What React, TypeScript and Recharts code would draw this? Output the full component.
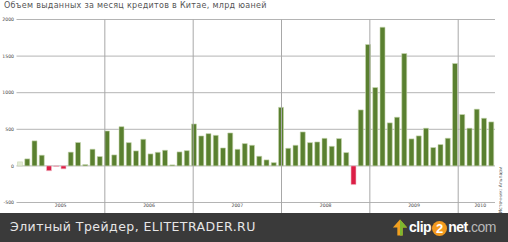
import React from "react";
import {
  Bar,
  BarChart,
  CartesianGrid,
  Cell,
  ReferenceLine,
  XAxis,
  YAxis,
} from "recharts";

// years shown on the x axis and how many months each one has
const years = ["2005", "2006", "2007", "2008", "2009", "2010"];
const monthsPerYear = [12, 12, 12, 12, 12, 6];

// new loans per month, bn yuan
const loans2005 = [55, 96, 342, 146, -66, -8, -40, 188, 320, 18, 228, 128];
const loans2006 = [477, 150, 536, 318, 205, 364, 164, 186, 214, 14, 191, 209];
const loans2007 = [573, 409, 441, 418, 245, 450, 227, 305, 282, 132, 82, 45];
const loans2008 = [800, 241, 282, 464, 318, 327, 377, 268, 373, 182, -255, 765];
const loans2009 = [1658, 1071, 1895, 588, 665, 1535, 369, 410, 515, 251, 292, 378];
const loans2010 = [1399, 702, 515, 775, 651, 601];

const yTicks = [-500, 0, 500, 1000, 1500, 2000];

const GREEN = "#5a8030";
const PALE = "#e3ebd6";
const RED = "#dc1e46";

const perYear = [loans2005, loans2006, loans2007, loans2008, loans2009, loans2010];

const data = perYear.flatMap((vals, yi) =>
  vals.map((v, mi) => ({ key: `${years[yi]}-${mi + 1}`, value: v }))
);

// year boundaries (in months) and centers on the numeric helper axis
const bounds: number[] = [];
const centers: number[] = [];
let acc = 0;
monthsPerYear.forEach((n) => {
  centers.push(acc + n / 2);
  acc += n;
  bounds.push(acc);
});
const totalMonths = acc;

const tickStyle = { fontSize: 4.6, fill: "#444", fontFamily: "DejaVu Sans" };

export default function App() {
  return (
    <div
      style={{
        position: "absolute",
        left: 0,
        top: 0,
        width: 508,
        height: 242,
        background: "#fff",
        overflow: "hidden",
        fontFamily: "DejaVu Sans",
      }}
    >
      <div
        style={{
          position: "absolute",
          left: 4,
          top: 1,
          fontSize: 8,
          color: "#555",
          letterSpacing: 0.3,
          whiteSpace: "nowrap",
        }}
      >
        Объем выданных за месяц кредитов в Китае, млрд юаней
      </div>

      <div style={{ position: "absolute", left: 0, top: 0 }}>
        <BarChart
          width={508}
          height={213}
          data={data}
          margin={{ top: 19.5, right: 13, left: 0, bottom: 0 }}
          barCategoryGap="14%"
        >
          <CartesianGrid vertical={false} stroke="#b4b4b4" xAxisId="yr" />
          <XAxis
            xAxisId="yr"
            type="number"
            domain={[0, totalMonths]}
            ticks={centers}
            tickFormatter={(v: number) => years[centers.indexOf(v)] ?? ""}
            axisLine={false}
            tickLine={false}
            tickSize={1}
            tickMargin={0}
            height={10.5}
            tick={tickStyle}
            interval={0}
          />
          <XAxis xAxisId="m" dataKey="key" hide height={0} />
          <YAxis
            domain={[-500, 2000]}
            ticks={yTicks}
            width={16.5}
            axisLine={false}
            tickLine={false}
            tickSize={2}
            tickMargin={0.5}
            tick={tickStyle}
            interval={0}
          />
          {bounds.slice(0, -1).map((b) => (
            <ReferenceLine
              key={b}
              xAxisId="yr"
              segment={[
                { x: b, y: 2000 },
                { x: b, y: -650 },
              ]}
              stroke="#a8a8a8"
              ifOverflow="visible"
            />
          ))}
          <Bar
            xAxisId="m"
            dataKey="value"
            isAnimationActive={false}
            strokeWidth={0.6}
          >
            {data.map((d, i) => (
              <Cell
                key={d.key}
                fill={i === 0 ? PALE : d.value < 0 ? RED : GREEN}
                stroke={d.value < 0 ? "#f0c0ca" : "#c9d8b2"}
              />
            ))}
          </Bar>
        </BarChart>
      </div>

      <div
        style={{
          position: "absolute",
          left: 500,
          top: 190,
          fontSize: 4.6,
          color: "#444",
          whiteSpace: "nowrap",
          transform: "translate(-50%, -50%) rotate(-90deg)",
        }}
      >
        Источник: Альпари
      </div>

      <div
        style={{
          position: "absolute",
          left: 0,
          top: 213,
          width: 508,
          height: 29,
          background: "#3a3a3a",
        }}
      >
        <div
          style={{
            position: "absolute",
            left: 10,
            top: 6,
            fontSize: 12.5,
            color: "#e6e6e6",
            letterSpacing: 0.45,
            whiteSpace: "nowrap",
          }}
        >
          Элитный Трейдер, ELITETRADER.RU
        </div>
        <svg
          style={{ position: "absolute", left: 392, top: 5 }}
          width={16}
          height={19}
          viewBox="0 0 18 20"
        >
          <polygon points="9,1 17,10 12,10 12,19 6,19 6,10 1,10" fill="#f0a020" />
          <polygon points="9,1 17,10 12,10 12,19 9,19" fill="#7cb82f" />
        </svg>
        <div
          style={{
            position: "absolute",
            left: 409,
            top: 5,
            height: 19,
            lineHeight: "19px",
            fontFamily: "Liberation Sans",
            fontWeight: 700,
            fontSize: 14,
            letterSpacing: -0.5,
            whiteSpace: "nowrap",
            color: "#fff",
          }}
        >
          clip
          <span
            style={{
              display: "inline-block",
              width: 15,
              height: 15,
              borderRadius: 8,
              background: "#f29a1f",
              textAlign: "center",
              lineHeight: "15px",
              fontSize: 13,
              letterSpacing: 0,
              verticalAlign: "middle",
              margin: "0 1px",
            }}
          >
            2
          </span>
          net
          <span style={{ color: "#b8b8b8", fontWeight: 400 }}>.com</span>
        </div>
      </div>
    </div>
  );
}
